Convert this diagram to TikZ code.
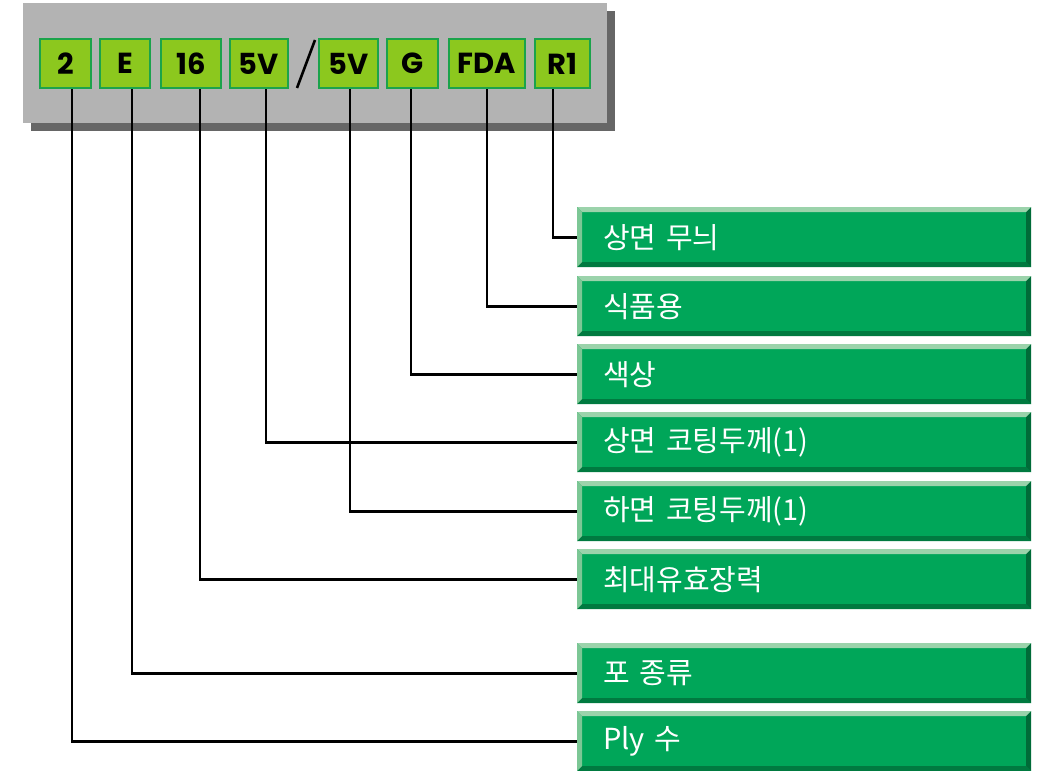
\documentclass[tikz,border=0pt]{standalone}
\usepackage{fontspec}
\newfontfamily\kr{Noto Sans CJK KR}
\newfontfamily\pop{Poppins}
\definecolor{panel}{HTML}{B3B3B3}
\definecolor{shadowgray}{HTML}{666666}
\definecolor{ygreen}{HTML}{8CC81E}
\definecolor{bgreen}{HTML}{1BA34B}
\definecolor{lgreen}{HTML}{00A659}
\definecolor{bevtop}{HTML}{9BD3AB}
\definecolor{bevleft}{HTML}{7CC795}
\definecolor{bevbot}{HTML}{007A40}
\definecolor{bevright}{HTML}{006B38}
\tikzset{
  code/.style={fill=ygreen, draw=bgreen, line width=2pt, inner sep=0pt,
    minimum height=49pt, font=\pop\bfseries\fontsize{29}{29}\selectfont, text=black},
  lbl/.style={fill=lgreen, minimum width=454pt, minimum height=60pt, inner sep=0pt,
    inner xsep=26pt, text width=402pt, align=left, text=white,
    font=\kr\fontsize{29}{29}\selectfont, anchor=north west,
    path picture={
      \path (path picture bounding box.north west) coordinate (pnw)
            (path picture bounding box.north east) coordinate (pne)
            (path picture bounding box.south west) coordinate (psw)
            (path picture bounding box.south east) coordinate (pse);
      \fill[bevtop] (pnw) -- (pne) -- ([shift={(-5pt,-5pt)}]pne) -- ([shift={(5pt,-5pt)}]pnw) -- cycle;
      \fill[bevleft] (pnw) -- ([shift={(5pt,-5pt)}]pnw) -- ([shift={(5pt,5pt)}]psw) -- (psw) -- cycle;
      \fill[bevbot] (psw) -- (pse) -- ([shift={(-5pt,5pt)}]pse) -- ([shift={(5pt,5pt)}]psw) -- cycle;
      \fill[bevright] (pse) -- (pne) -- ([shift={(-5pt,-5pt)}]pne) -- ([shift={(-5pt,5pt)}]pse) -- cycle;
    }},
  conn/.style={draw=black, line width=2.6pt}
}
\begin{document}
\begin{tikzpicture}[x=1pt,y=-1pt]
\useasboundingbox (0,0) rectangle (1047,771);
% panel
\fill[shadowgray] (31,11) rectangle (615,131);
\fill[panel] (23,3) rectangle (607,123);
% code boxes
\node[code, minimum width=51pt] (t1) at (65.5,63.5) {2};
\node[code, minimum width=50pt] (t2) at (125,63.5) {E};
\node[code, minimum width=60pt] (t3) at (191,63.5) {16};
\node[code, minimum width=58pt] (t4) at (259,63.5) {5V};
\node[code, minimum width=59pt] (t5) at (348.5,63.5) {5V};
\node[code, minimum width=51pt] (t6) at (412.5,63.5) {G};
\node[code, minimum width=76pt] (t7) at (487,63.5) {FDA};
\node[code, minimum width=55pt] (t8) at (562.5,63.5) {R1};
\draw[line width=2.6pt] (315,40) -- (297,88);
% label boxes
\node[lbl] (b1) at (577,207) {상면 무늬};
\node[lbl] (b2) at (577,276) {식품용};
\node[lbl] (b3) at (577,344) {색상};
\node[lbl] (b4) at (577,412) {상면 코팅두께(1)};
\node[lbl] (b5) at (577,481) {하면 코팅두께(1)};
\node[lbl] (b6) at (577,549) {최대유효장력};
\node[lbl] (b7) at (577,643) {포 종류};
\node[lbl] (b8) at (577,711) {Ply 수};
% connectors
\draw[conn] ([xshift=6.5pt]t1.south) |- (b8.west);
\draw[conn] ([xshift=7pt]t2.south) |- (b7.west);
\draw[conn] ([xshift=9pt]t3.south) |- (b6.west);
\draw[conn] ([xshift=7pt]t4.south) |- (b4.west);
\draw[conn] ([xshift=1.5pt]t5.south) |- (b5.west);
\draw[conn] ([xshift=-1.5pt]t6.south) |- (b3.west);
\draw[conn] (t7.south) |- (b2.west);
\draw[conn] ([xshift=-9.5pt]t8.south) |- (b1.west);
\end{tikzpicture}
\end{document}
